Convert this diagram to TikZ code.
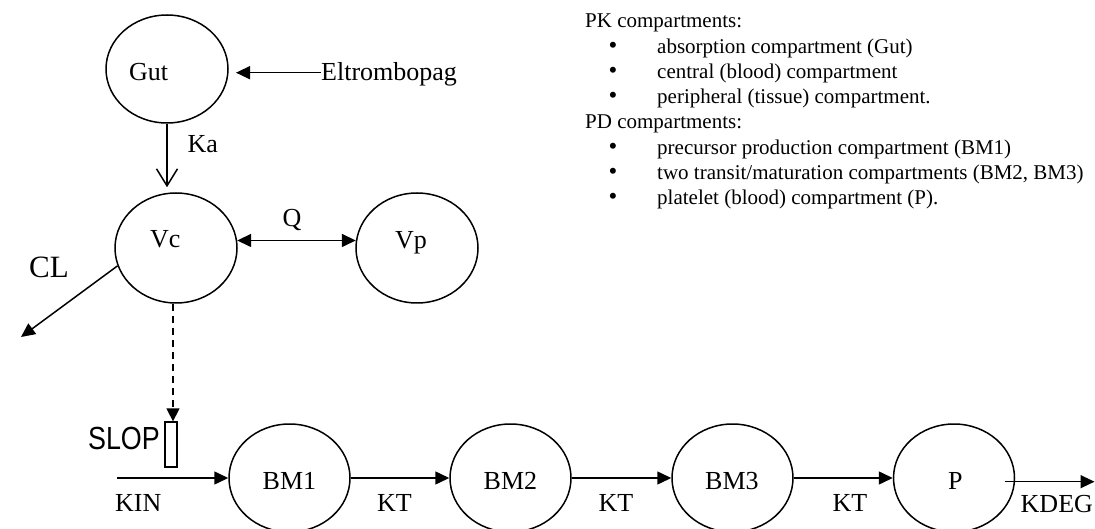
\documentclass[tikz,border=0pt]{standalone}
\usepackage{fontspec}
\usepackage{graphicx}
\setmainfont{Liberation Serif}
\newfontfamily\slopfont{Liberation Sans}
\usetikzlibrary{arrows.meta,shapes.geometric,calc}
\begin{document}
\begin{tikzpicture}[x=1pt,y=-1pt,
  comp/.style={draw,ellipse,line width=1.5pt,inner sep=0pt,minimum width=122pt,minimum height=110pt},
  lbl/.style={anchor=base west,inner sep=0pt,font=\fontsize{26}{30}\selectfont},
  lst/.style={anchor=base west,inner sep=0pt,font=\fontsize{21}{25}\selectfont},
  bul/.style={anchor=base,inner sep=0pt,font=\fontsize{25}{25}\selectfont},
  conn/.style={line width=1.5pt},
  flow/.style={conn,-{Triangle[length=14pt,width=13pt]}},
  twoway/.style={conn,{Triangle[length=14pt,width=13pt]}-{Triangle[length=14pt,width=13pt]}},
  openflow/.style={conn,-{Straight Barb[length=17pt,width=21pt,line width=1.5pt]}},
  signal/.style={conn,dash pattern=on 7pt off 5pt,-{Triangle[length=13pt,width=13pt]}},
  slopbar/.style={draw,line width=1.3pt,inner sep=0pt,minimum width=12pt,minimum height=45pt},
]
\useasboundingbox (0,0) rectangle (1095,529);
\clip (0,0) rectangle (1095,529);

% compartments
\node[comp,minimum height=108pt] (gut) at (167,69) {};
\node[comp] (vc) at (176,248) {};
\node[comp] (vp) at (417,248) {};
\node[comp,minimum width=121pt,minimum height=108pt] (bm1) at (289.5,478) {};
\node[comp,minimum width=121pt,minimum height=108pt] (bm2) at (510.5,478) {};
\node[comp,minimum width=121pt,minimum height=108pt] (bm3) at (732.5,478) {};
\node[comp,minimum width=121pt,minimum height=108pt] (p) at (954,478) {};
\node[slopbar] (slopbox) at (171,444.5) {};

% labels
\node[lbl] (gutlbl) at (129,81) {Gut};
\node[lbl] (eltro) at (321,81) {Eltrombopag};
\node[lbl] (ka) at (187.5,153) {Ka};
\node[lbl] (vclbl) at (150,248) {Vc};
\node[lbl,anchor=base] (q) at (292,227) {Q};
\node[lbl] (vplbl) at (395,249) {Vp};
\node[lbl,font=\fontsize{31}{35}\selectfont] (cl) at (29,278) {CL};
\node[anchor=base east,inner sep=0pt,font=\slopfont\fontsize{32}{36}\selectfont] (slop) at (160,449) {\scalebox{0.84}[1]{SLOP}};
\node[lbl] (kin) at (115,511) {KIN};
\node[lbl] (bm1lbl) at (262.5,489) {BM1};
\node[lbl] (kt1) at (377,511) {KT};
\node[lbl] (bm2lbl) at (483.5,489) {BM2};
\node[lbl] (kt2) at (598.5,511) {KT};
\node[lbl] (bm3lbl) at (705,489) {BM3};
\node[lbl] (kt3) at (832.5,511) {KT};
\node[lbl] (plbl) at (948,489) {P};
\node[lbl] (kdeg) at (1020.5,512) {KDEG};

% connectors
\coordinate (eltail) at (321,72.7);
\coordinate (eltip) at (236,72.7);
\draw[flow] (eltail) -- (eltip);
\draw[openflow,shorten >=5pt] (gut.south) -- (gut.south |- vc.north);
\draw[twoway] (vc.7) -- (vp.173);
\coordinate (clend) at (21,337);
\draw[flow] (vc.197) -- (clend);
\draw[signal] ([xshift=-3pt]vc.south) -- ([xshift=-3pt]vc.south |- slopbox.north);
\coordinate (kin0) at (117,478);
\draw[flow] (kin0) -- (bm1.west);
\draw[flow] (bm1.east) -- (bm2.west);
\draw[flow] (bm2.east) -- (bm3.west);
\draw[flow] (bm3.east) -- (p.west);
\coordinate (kdegstart) at (1004.5,481.7);
\coordinate (kdegend) at (1094.5,481.7);
\draw[flow] (kdegstart) -- (kdegend);

% legend
\node[lst] (pk) at (585,28) {PK compartments:};
\node[bul] (b1) at (613,53.3) {•};
\node[lst] (t1) at (657,53.3) {absorption compartment (Gut)};
\node[bul] (b2) at (613,78.6) {•};
\node[lst] (t2) at (657,78.6) {central (blood) compartment};
\node[bul] (b3) at (613,104) {•};
\node[lst] (t3) at (657,104) {peripheral (tissue) compartment.};
\node[lst] (pd) at (585,129) {PD compartments:};
\node[bul] (b4) at (613,154.5) {•};
\node[lst] (t4) at (657,154.5) {precursor production compartment (BM1)};
\node[bul] (b5) at (613,180) {•};
\node[lst] (t5) at (657,180) {two transit/maturation compartments (BM2, BM3)};
\node[bul] (b6) at (613,205) {•};
\node[lst] (t6) at (657,205) {platelet (blood) compartment (P).};
\end{tikzpicture}
\end{document}
